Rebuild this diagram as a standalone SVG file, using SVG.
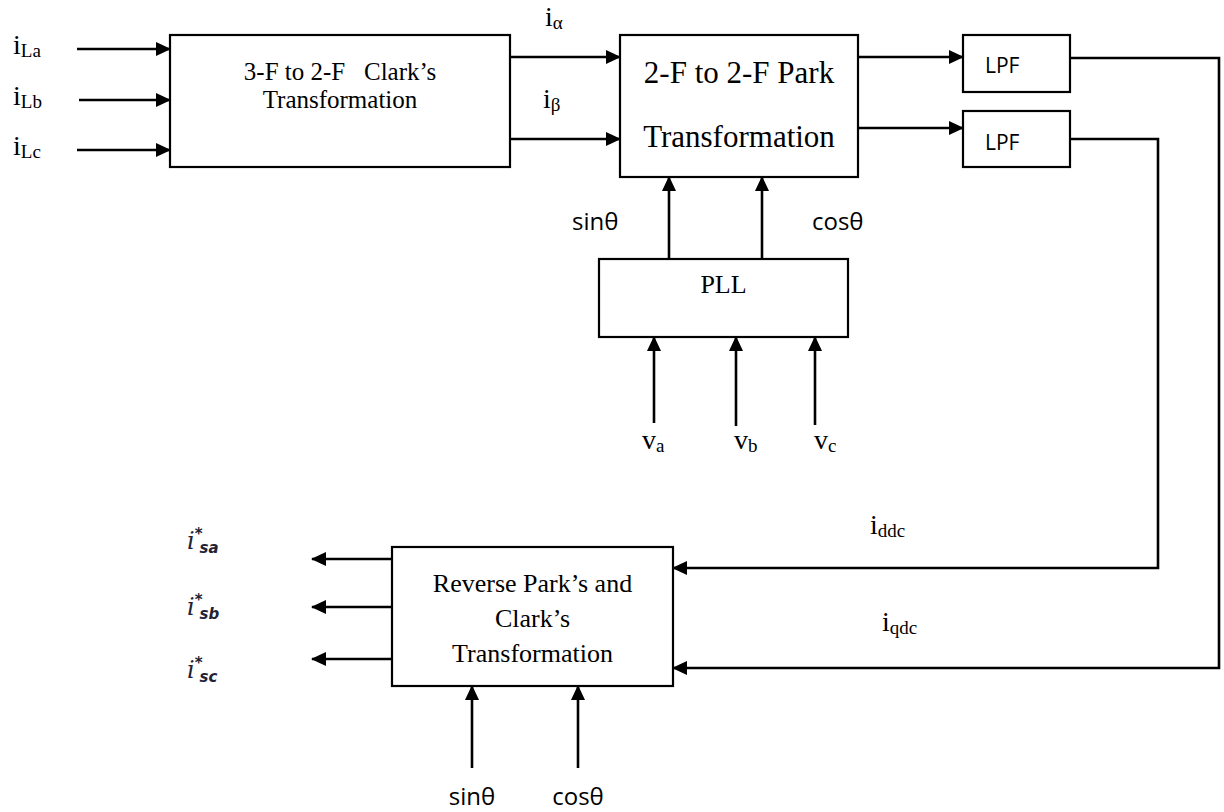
<svg xmlns="http://www.w3.org/2000/svg" width="1224" height="812" viewBox="0 0 1224 812">
<defs>
<marker id="ah" markerUnits="userSpaceOnUse" markerWidth="16" markerHeight="14" refX="14" refY="7" orient="auto">
<path d="M0,0 L15,7 L0,14 z" fill="#000"/>
</marker>
<style>
.box{fill:#fff;stroke:#000;stroke-width:2.2}
.ar{fill:none;stroke:#000;stroke-width:2.6;marker-end:url(#ah)}
.tr{font-family:"Liberation Serif","Times New Roman",serif;font-size:26px;fill:#000}
.tc{font-family:"Liberation Serif","Times New Roman",serif;font-size:25px;fill:#000}
.tl{font-family:"Liberation Serif","Times New Roman",serif;font-size:28px;fill:#000}
.tb{font-family:"Liberation Serif","Times New Roman",serif;font-size:31px;fill:#000}
.sf{font-family:"Open Sans","Noto Sans",sans-serif;font-size:24px;fill:#000}
.lpf{font-family:"Open Sans","Noto Sans",sans-serif;font-size:21px;fill:#000}
.sub{font-size:19px}
.mi{font-family:"DejaVu Serif","Liberation Serif",serif;font-style:italic;font-size:24px;fill:#222233}
.ms{font-family:"DejaVu Sans","Liberation Sans",sans-serif;font-style:italic;font-weight:bold;font-size:15px;fill:#222233}
.c{text-anchor:middle}
</style>
</defs>

<g id="connectors">
<line class="ar" x1="77" y1="49" x2="170" y2="49"/>
<line class="ar" x1="79" y1="100" x2="170" y2="100"/>
<line class="ar" x1="77" y1="150" x2="170" y2="150"/>
<line class="ar" x1="510" y1="57" x2="620" y2="57"/>
<line class="ar" x1="510" y1="139" x2="620" y2="139"/>
<line class="ar" x1="858" y1="57" x2="963" y2="57"/>
<line class="ar" x1="858" y1="128" x2="963" y2="128"/>
<polyline class="ar" points="1070,58 1219,58 1219,668 673,668"/>
<polyline class="ar" points="1070,139 1158,139 1158,568 673,568"/>
<line class="ar" x1="669" y1="259" x2="669" y2="177"/>
<line class="ar" x1="762" y1="259" x2="762" y2="177"/>
<line class="ar" x1="654" y1="423" x2="654" y2="337"/>
<line class="ar" x1="736" y1="426" x2="736" y2="337"/>
<line class="ar" x1="815" y1="425" x2="815" y2="337"/>
<line class="ar" x1="392" y1="559" x2="312" y2="559"/>
<line class="ar" x1="392" y1="607" x2="312" y2="607"/>
<line class="ar" x1="392" y1="659" x2="312" y2="659"/>
<line class="ar" x1="472" y1="768" x2="472" y2="686"/>
<line class="ar" x1="578" y1="768" x2="578" y2="686"/>
</g>

<g id="clark">
<rect class="box" x="170" y="35" width="340" height="132"/>
<text class="tc c" x="340" y="80" xml:space="preserve">3-F to 2-F   Clark’s</text>
<text class="tc c" x="340" y="108">Transformation</text>
</g>

<g id="park">
<rect class="box" x="620" y="35" width="238" height="142"/>
<text class="tb c" x="739" y="83">2-F to 2-F Park</text>
<text class="tb c" x="739" y="147">Transformation</text>
</g>

<g id="lpf1">
<rect class="box" x="963" y="35" width="107" height="57"/>
<text class="lpf" x="985" y="73">LPF</text>
</g>
<g id="lpf2">
<rect class="box" x="963" y="111" width="107" height="56"/>
<text class="lpf" x="985" y="150">LPF</text>
</g>

<g id="pll">
<rect class="box" x="599" y="259" width="249" height="78"/>
<text class="tr c" x="723.5" y="293">PLL</text>
</g>

<g id="reverse">
<rect class="box" x="392" y="547" width="281" height="139"/>
<text class="tr c" x="532.5" y="592">Reverse Park’s and</text>
<text class="tr c" x="532.5" y="627">Clark’s</text>
<text class="tr c" x="532.5" y="662">Transformation</text>
</g>

<g id="labels">
<text class="tl" x="13" y="54">i<tspan class="sub" dy="3">La</tspan></text>
<text class="tl" x="13" y="105">i<tspan class="sub" dy="3">Lb</tspan></text>
<text class="tl" x="13" y="155">i<tspan class="sub" dy="3">Lc</tspan></text>
<text class="tl" x="545" y="26">i<tspan class="sub" dy="3">α</tspan></text>
<text class="tl" x="543" y="108">i<tspan class="sub" dy="3">β</tspan></text>
<text class="sf" x="572" y="230">sinθ</text>
<text class="sf" x="812" y="230">cosθ</text>
<text class="tl" x="642" y="449">v<tspan class="sub" dy="3">a</tspan></text>
<text class="tl" x="734" y="449">v<tspan class="sub" dy="3">b</tspan></text>
<text class="tl" x="814" y="449">v<tspan class="sub" dy="3">c</tspan></text>
<text class="tl" x="870" y="534">i<tspan class="sub" dy="3">ddc</tspan></text>
<text class="tl" x="882" y="631">i<tspan class="sub" dy="3">qdc</tspan></text>
<text class="sf c" x="472" y="805">sinθ</text>
<text class="sf c" x="578" y="805">cosθ</text>
<text class="mi" x="187" y="549">i<tspan class="ms" dy="-10">*</tspan><tspan class="ms" dx="-3" dy="14">sa</tspan></text>
<text class="mi" x="187" y="615">i<tspan class="ms" dy="-10">*</tspan><tspan class="ms" dx="-3" dy="14">sb</tspan></text>
<text class="mi" x="187" y="678">i<tspan class="ms" dy="-10">*</tspan><tspan class="ms" dx="-3" dy="14">sc</tspan></text>
</g>
</svg>
